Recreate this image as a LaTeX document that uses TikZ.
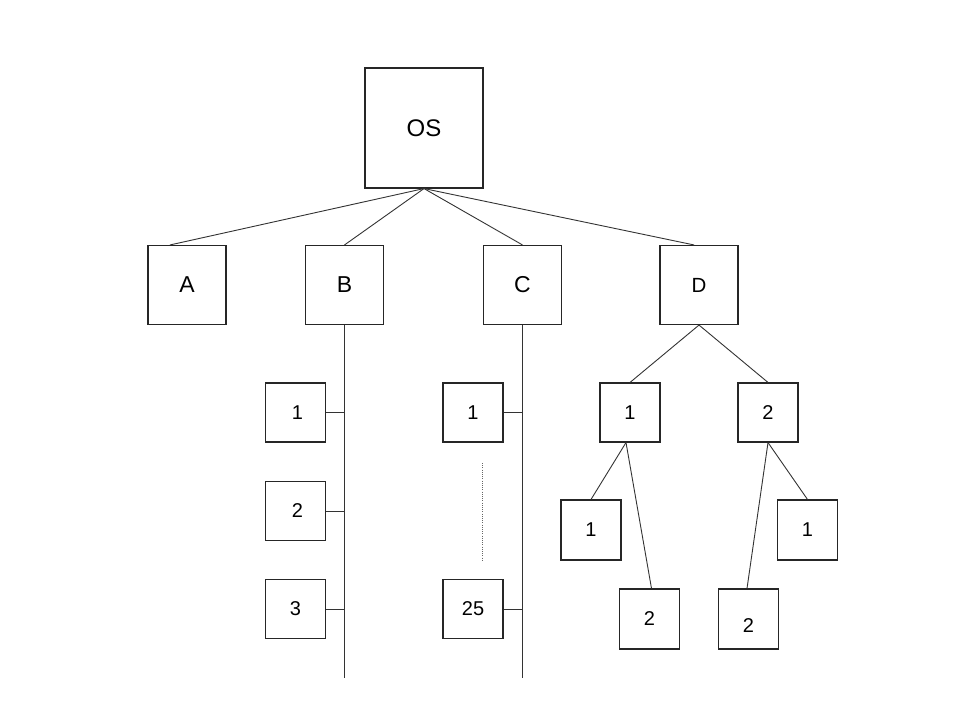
\documentclass[tikz,border=0pt]{standalone}
\usepackage{fontspec}
\setmainfont{Liberation Sans}
\begin{document}
\begin{tikzpicture}[x=1pt,y=-1pt,
  box/.style={draw=black!85, line width=1.1pt, fill=white, inner sep=0pt, align=center},
  big/.style={box, minimum width=118pt, minimum height=120pt, font=\fontsize{24}{24}\selectfont},
  mid/.style={box, minimum width=78pt, minimum height=79pt, font=\fontsize{23}{23}\selectfont},
  small/.style={box, minimum width=60pt, minimum height=59pt, font=\fontsize{20}{20}\selectfont},
  link/.style={draw=black!80, line width=0.9pt},
  dotline/.style={draw=black!60, line width=1pt, dash pattern=on 1pt off 1.2pt}]
\useasboundingbox (0,0) rectangle (960,720);

% top
\node[big] (os) at (424,128) {OS};

% first level
\node[mid] (A) at (187,285) {A};
\node[mid] (B) at (344.5,285) {B};
\node[mid] (C) at (522.5,285) {C};
\node[mid, font=\fontsize{20.5}{20.5}\selectfont] (D) at (699,285) {D};

\draw[link] (os.south) -- ([xshift=-17pt]A.north);
\draw[link] (os.south) -- (B.north);
\draw[link] (os.south) -- (C.north);
\draw[link] (os.south) -- ([xshift=-5pt]D.north);

% B branch
\coordinate (Bend) at (344.5,678);
\draw[link] (B.south) -- (Bend);
\node[small] (b1) at (295.5,412.5) {\hspace*{4pt}1};
\node[small] (b2) at (295.5,511) {\hspace*{4pt}2};
\node[small] (b3) at (295.5,609) {3};
\draw[link] (b1.east) -- (b1.east -| Bend);
\draw[link] (b2.east) -- (b2.east -| Bend);
\draw[link] (b3.east) -- (b3.east -| Bend);

% C branch
\coordinate (Cend) at (522.5,678);
\draw[link] (C.south) -- (Cend);
\node[small] (c1) at (473,412.5) {1};
\node[small] (c25) at (473,609) {25};
\draw[link] (c1.east) -- (c1.east -| Cend);
\draw[link] (c25.east) -- (c25.east -| Cend);
\coordinate (dtop) at (482.7,463);
\coordinate (dbot) at (482.7,560);
\draw[dotline] (dtop) -- (dbot);

% D branch
\node[small] (d1) at (630,412.5) {1};
\node[small] (d2) at (768,412.5) {2};
\draw[link] (D.south) -- (d1.north);
\draw[link] (D.south) -- (d2.north);

\node[small, minimum height=60pt] (d1a) at (591,530) {1};
\node[small, minimum height=60pt] (d1b) at (649.5,619) {2};
\node[small, minimum height=60pt] (d2a) at (807.5,530) {1};
\node[small, minimum height=60pt] (d2b) at (748.5,619) {\raisebox{-7pt}[\height][\depth]{2}};

\draw[link] ([xshift=-4pt]d1.south) -- (d1a.north);
\draw[link] ([xshift=-4pt]d1.south) -- ([xshift=2pt]d1b.north);
\draw[link] (d2.south) -- (d2a.north);
\draw[link] (d2.south) -- ([xshift=-1.5pt]d2b.north);
\end{tikzpicture}
\end{document}
